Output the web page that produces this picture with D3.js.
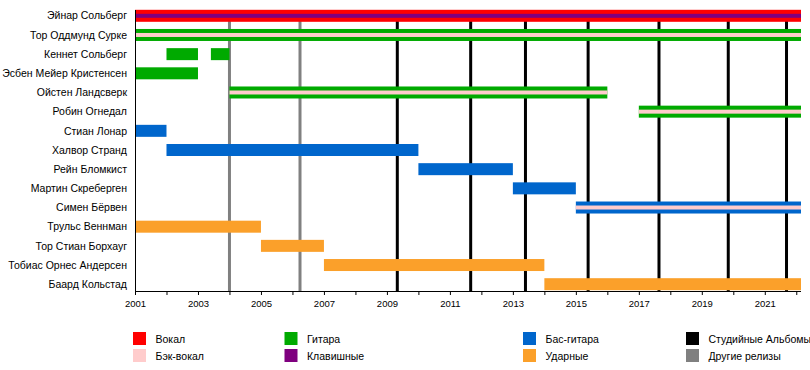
<!DOCTYPE html>
<html>
<head>
<meta charset="utf-8">
<script src="https://d3js.org/d3.v7.min.js"></script>
<style>
  body { margin: 0; background: #fff; }
  text { font-family: "Liberation Sans", Arial, sans-serif; font-size: 10.5px; fill: #000; }
</style>
</head>
<body>
<svg id="chart" width="810" height="370"></svg>
<script>
    var END = 2022.15;

    var members = [
        "Эйнар Сольберг", "Тор Оддмунд Сурке", "Кеннет Сольберг", "Эсбен Мейер Кристенсен",
        "Ойстен Ландсверк", "Робин Огнедал", "Стиан Лонар", "Халвор Странд",
        "Рейн Бломкист", "Мартин Скреберген", "Симен Бёрвен", "Трульс Веннман",
        "Тор Стиан Борхауг", "Тобиас Орнес Андерсен", "Баард Кольстад"
    ];

    var roleColors = {
        vocals: "#ff0000", backing: "#ffcccc", guitar: "#00aa00",
        keys: "#7f007f", bass: "#0066cc", drums: "#fba02a"
    };

    // main bars: member, from, to, role
    var stints = [
        ["Эйнар Сольберг", 2001, END, "vocals"],
        ["Тор Оддмунд Сурке", 2001, END, "guitar"],
        ["Кеннет Сольберг", 2002, 2003, "guitar"],
        ["Кеннет Сольберг", 2003.41, 2004, "guitar"],
        ["Эсбен Мейер Кристенсен", 2001, 2003, "guitar"],
        ["Ойстен Ландсверк", 2004, 2016, "guitar"],
        ["Робин Огнедал", 2017, END, "guitar"],
        ["Стиан Лонар", 2001, 2002, "bass"],
        ["Халвор Странд", 2002, 2010, "bass"],
        ["Рейн Бломкист", 2010, 2013, "bass"],
        ["Мартин Скреберген", 2013, 2015, "bass"],
        ["Симен Бёрвен", 2015, END, "bass"],
        ["Трульс Веннман", 2001, 2005, "drums"],
        ["Тор Стиан Борхауг", 2005, 2007, "drums"],
        ["Тобиас Орнес Андерсен", 2007, 2014, "drums"],
        ["Баард Кольстад", 2014, END, "drums"]
    ];

    // thin inner stripes
    var extras = [
        ["Эйнар Сольберг", 2001, END, "keys"],
        ["Тор Оддмунд Сурке", 2001, END, "backing"],
        ["Ойстен Ландсверк", 2004, 2016, "backing"],
        ["Робин Огнедал", 2017, END, "backing"],
        ["Симен Бёрвен", 2015, END, "backing"]
    ];

    var studioAlbums = [2009.33, 2011.66, 2013.4, 2015.39, 2017.64, 2019.84, 2021.69];
    var otherReleases = [2004, 2006.24];

    var yearTicks = d3.range(2001, 2023);

    var legendItems = [
        ["Вокал", "#ff0000"], ["Бэк-вокал", "#ffcccc"],
        ["Гитара", "#00aa00"], ["Клавишные", "#7f007f"],
        ["Бас-гитара", "#0066cc"], ["Ударные", "#fba02a"],
        ["Студийные Альбомы", "#000000"], ["Другие релизы", "#808080"]
    ];
    var legendCols = [133, 284.5, 523, 686];

    var svg = d3.select("#chart");
    var axisY = 291;

    var x = d3.scaleLinear().domain([2001, END]).range([135, 801]);
    var y = d3.scalePoint().domain(members).range([15.8, 284.2]);

    var barH = 12, innerH = 4;

    // release lines (under the bars)
    svg.selectAll("line.studio").data(studioAlbums).enter().append("line")
        .attr("class", "studio")
        .attr("x1", function(d){ return x(d); }).attr("x2", function(d){ return x(d); })
        .attr("y1", 10).attr("y2", axisY)
        .attr("stroke", "#000").attr("stroke-width", 3);

    svg.selectAll("line.other").data(otherReleases).enter().append("line")
        .attr("class", "other")
        .attr("x1", function(d){ return x(d); }).attr("x2", function(d){ return x(d); })
        .attr("y1", 10).attr("y2", axisY)
        .attr("stroke", "#808080").attr("stroke-width", 3);

    svg.selectAll("rect.bar").data(stints).enter().append("rect")
        .attr("class", "bar")
        .attr("x", function(d){ return x(d[1]); })
        .attr("width", function(d){ return x(d[2]) - x(d[1]); })
        .attr("y", function(d){ return y(d[0]) - barH / 2; })
        .attr("height", barH)
        .attr("fill", function(d){ return roleColors[d[3]]; });

    svg.selectAll("rect.inner").data(extras).enter().append("rect")
        .attr("class", "inner")
        .attr("x", function(d){ return x(d[1]); })
        .attr("width", function(d){ return x(d[2]) - x(d[1]); })
        .attr("y", function(d){ return y(d[0]) - innerH / 2; })
        .attr("height", innerH)
        .attr("fill", function(d){ return roleColors[d[3]]; });

    // member names
    svg.selectAll("text.name").data(members).enter().append("text")
        .attr("class", "name")
        .attr("x", 127)
        .attr("y", function(d){ return y(d); })
        .attr("dy", "0.35em")
        .attr("text-anchor", "end")
        .text(function(d){ return d; });

    // left edge
    svg.append("line")
        .attr("x1", 135.5).attr("x2", 135.5).attr("y1", 10).attr("y2", axisY)
        .attr("stroke", "#000");

    var xAxis = d3.axisBottom(x)
        .tickValues(yearTicks)
        .tickSize(4)
        .tickPadding(5)
        .tickFormat(function(d){ return (d - 2001) % 2 === 0 ? String(d) : ""; });

    var gx = svg.append("g")
        .attr("transform", "translate(0," + axisY + ")")
        .call(xAxis);
    gx.select(".domain").attr("d", "M135," + 0.5 + "H" + x(END));
    gx.selectAll("text").style("font-family", "'Liberation Sans', Arial, sans-serif").style("font-size", "9.5px");

    // legend
    var lg = svg.selectAll("g.legend").data(legendItems).enter().append("g")
        .attr("class", "legend")
        .attr("transform", function(d, i){
            return "translate(" + legendCols[Math.floor(i / 2)] + "," + (332 + (i % 2) * 17) + ")";
        });
    lg.append("rect").attr("width", 13).attr("height", 13)
        .attr("fill", function(d){ return d[1]; });
    lg.append("text").attr("x", 22.5).attr("y", 11)
        .text(function(d){ return d[0]; });
</script>
</body>
</html>
